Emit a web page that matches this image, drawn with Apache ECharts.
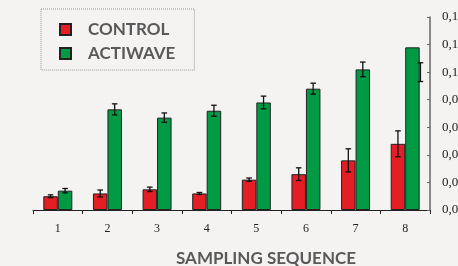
<!DOCTYPE html>
<html>
<head>
<meta charset="utf-8">
<script src="https://cdn.jsdelivr.net/npm/echarts@6/dist/echarts.min.js"></script>
<style>
  html, body { margin: 0; padding: 0; background: #f4f3f1; }
  #chart { width: 458px; height: 266px; }
</style>
</head>
<body>
<div id="chart"></div>
<script>
var categories = ['1', '2', '3', '4', '5', '6', '7', '8'];
var seriesNames = ['CONTROL', 'ACTIWAVE'];
var controlValues = [0.010, 0.012, 0.015, 0.012, 0.022, 0.026, 0.036, 0.048];
var controlErrors = [0.001, 0.0025, 0.0016, 0.0007, 0.0012, 0.0046, 0.0084, 0.0094];
var actiwaveValues = [0.014, 0.073, 0.067, 0.072, 0.078, 0.088, 0.102, 0.118];
var actiwaveErrors = [0.0016, 0.004, 0.0034, 0.004, 0.0046, 0.004, 0.0053, 0.0068];
// the last ACTIWAVE error bar sits lower than its bar in the original
var actiwaveErrorCenters = [0.014, 0.073, 0.067, 0.072, 0.078, 0.088, 0.102, 0.100];
var yTicks = [0, 0.02, 0.04, 0.06, 0.08, 0.10, 0.12, 0.14];

var myChart = echarts.init(document.getElementById('chart'));
var barWidth = 14.5;

function errorSeries(centers, errors, shift, lastShift) {
  return {
    type: 'custom',
    silent: true,
    z: 5,
    renderItem: function (params, api) {
      var i = api.value(0);
      var c = api.value(1), e = api.value(2);
      var dx = shift + (i === centers.length - 1 ? lastShift : 0);
      var top = api.coord([i, c + e]);
      var bot = api.coord([i, c - e]);
      var x = top[0] + dx;
      var style = { stroke: '#111', lineWidth: 1.3 };
      return {
        type: 'group',
        children: [
          { type: 'line', shape: { x1: x, y1: top[1], x2: x, y2: bot[1] }, style: style },
          { type: 'line', shape: { x1: x - 2.8, y1: top[1], x2: x + 2.8, y2: top[1] }, style: style },
          { type: 'line', shape: { x1: x - 2.8, y1: bot[1], x2: x + 2.8, y2: bot[1] }, style: style }
        ]
      };
    },
    data: centers.map(function (c, i) { return [i, c, errors[i]]; })
  };
}

var option = {
  backgroundColor: '#f4f3f1',
  animation: false,
  title: {
    text: 'SAMPLING SEQUENCE',
    left: 266,
    top: 250,
    textAlign: 'center',
    padding: 0,
    textStyle: { fontFamily: 'Lato', fontWeight: 'bold', fontSize: 17, color: '#595959' }
  },
  grid: { left: 33, right: 28, top: 17, bottom: 56, outerBoundsMode: 'none' },
  legend: {
    data: seriesNames,
    orient: 'vertical',
    left: 41,
    top: 9,
    padding: [12, 19, 8, 18],
    itemWidth: 11,
    itemHeight: 11,
    itemGap: 7,
    icon: 'rect',
    borderColor: '#999',
    borderWidth: 1,
    borderType: 'dotted',
    textStyle: {
      fontFamily: 'Lato',
      fontWeight: 'bold',
      fontSize: 17,
      color: '#595959',
      padding: [0, 0, 0, 12]
    }
  },
  xAxis: {
    type: 'category',
    data: categories,
    axisLine: { lineStyle: { color: '#222', width: 1 } },
    axisTick: { show: true, length: 4, lineStyle: { color: '#222' } },
    axisLabel: { fontFamily: 'Liberation Serif', fontSize: 12, color: '#222', margin: 13 }
  },
  yAxis: {
    type: 'value',
    position: 'right',
    min: 0,
    max: 0.14,
    interval: 0.02,
    splitLine: { show: false },
    axisLine: { show: true, lineStyle: { color: '#666', width: 1.5 } },
    axisTick: { show: true, inside: true, length: 3, lineStyle: { color: '#666' } },
    axisLabel: {
      fontFamily: 'Liberation Serif', fontSize: 13, color: '#222', margin: 12,
      formatter: function (v) { return v.toFixed(2).replace('.', ','); }
    }
  },
  series: [
    {
      name: seriesNames[0], type: 'bar', data: controlValues,
      barWidth: barWidth, barGap: '0%',
      itemStyle: { color: '#e31e24', borderColor: '#222', borderWidth: 1 }
    },
    {
      name: seriesNames[1], type: 'bar', data: actiwaveValues,
      barWidth: barWidth, barGap: '0%',
      itemStyle: { color: '#009a44', borderColor: '#222', borderWidth: 1 }
    },
    errorSeries(controlValues, controlErrors, -barWidth / 2, 0),
    errorSeries(actiwaveErrorCenters, actiwaveErrors, barWidth / 2, 8)
  ]
};
myChart.setOption(option);
</script>
</body>
</html>
